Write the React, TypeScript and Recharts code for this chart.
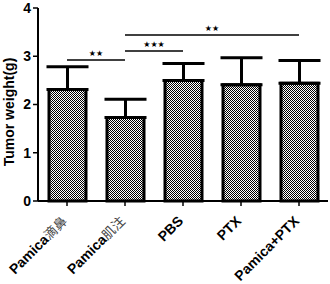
import React from 'react';
import { BarChart, Bar, XAxis, YAxis, ErrorBar, ReferenceLine } from 'recharts';

const categories = ['Pamica滴鼻', 'Pamica肌注', 'PBS', 'PTX', 'Pamica+PTX'];
const means = [2.31, 1.73, 2.5, 2.41, 2.44];
const errors = [0.47, 0.38, 0.35, 0.56, 0.47];
const yTicks = [0, 1, 2, 3, 4];
const sigLines = [
  { from: 'Pamica滴鼻', to: 'Pamica肌注', y: 2.92, label: '★★' },
  { from: 'Pamica肌注', to: 'PBS', y: 3.11, label: '★★★' },
  { from: 'Pamica肌注', to: 'Pamica+PTX', y: 3.44, label: '★★' },
];

const data = categories.map((c, i) => ({ name: c, value: means[i], err: [0, errors[i]] }));

const FONT = '"Liberation Sans", Arial, sans-serif';

const XTick = (props: any) => {
  const { x, y, payload } = props;
  const v: string = payload.value;
  const m = v.match(/^([A-Za-z+]+)(.*)$/);
  const latin = m ? m[1] : v;
  const cjk = m ? m[2] : '';
  const ex = x + 1;
  const ey = y + 14;
  return (
    <text
      x={ex}
      y={ey}
      textAnchor="end"
      transform={`rotate(-45, ${ex}, ${ey})`}
      fontFamily={FONT}
      fontWeight="bold"
      fontSize={14}
      fill="#000"
    >
      {latin}
      {cjk ? (
        <tspan fontFamily='"Noto Sans CJK SC", sans-serif' fontWeight="normal" fontSize={13} fill="#444">
          {cjk}
        </tspan>
      ) : null}
    </text>
  );
};

const StarLabel = (text: string) => (props: any) => {
  const vb = props.viewBox || {};
  let cx: number, cy: number;
  if (vb.x1 !== undefined) {
    cx = (vb.x1 + vb.x2) / 2;
    cy = Math.min(vb.y1, vb.y2);
  } else {
    cx = vb.x + (vb.width || 0) / 2;
    cy = vb.y;
  }
  return (
    <text x={cx} y={cy - 4} textAnchor="middle" fontSize={8} fill="#000" fontFamily='"DejaVu Sans", sans-serif'>
      {text}
    </text>
  );
};

export default function App() {
  return (
    <div style={{ position: 'absolute', left: 0, top: 0, width: 330, height: 284, background: '#fff' }}>
      <BarChart
        width={330}
        height={284}
        data={data}
        margin={{ top: 8, right: 2, left: 0, bottom: 0 }}
        barSize={37}
      >
        <defs>
          <pattern id="checker" width="2" height="2" patternUnits="userSpaceOnUse">
            <rect x="0" y="0" width="2" height="2" fill="#fff" />
            <rect x="0" y="0" width="1" height="1" fill="#000" />
            <rect x="1" y="1" width="1" height="1" fill="#000" />
          </pattern>
        </defs>
        <XAxis
          dataKey="name"
          height={83}
          interval={0}
          tick={<XTick />}
          axisLine={{ stroke: '#000', strokeWidth: 2 }}
          tickLine={{ stroke: '#000', strokeWidth: 1.5 }}
          tickSize={5}
        />
        <YAxis
          width={38}
          domain={[0, 4]}
          ticks={yTicks}
          interval={0}
          axisLine={{ stroke: '#000', strokeWidth: 2 }}
          tickLine={{ stroke: '#000', strokeWidth: 1.5 }}
          tickSize={5}
          tick={{ fill: '#000', fontSize: 14, fontWeight: 'bold', fontFamily: FONT }}
          label={() => {
            const cx = 14;
            const cy = 112;
            return (
              <text
                x={cx}
                y={cy}
                textAnchor="middle"
                transform={`rotate(-90, ${cx}, ${cy})`}
                fontFamily={FONT}
                fontWeight="bold"
                fontSize={14}
                fill="#000"
              >
                Tumor weight(g)
              </text>
            );
          }}
        />
        <Bar dataKey="value" fill="url(#checker)" stroke="#000" strokeWidth={3} isAnimationActive={false}>
          <ErrorBar dataKey="err" direction="y" width={21} stroke="#000" strokeWidth={3} />
        </Bar>
        {sigLines.map((s, i) => (
          <ReferenceLine
            key={i}
            segment={[
              { x: s.from, y: s.y },
              { x: s.to, y: s.y },
            ]}
            stroke="#000"
            strokeWidth={1.5}
            ifOverflow="visible"
            label={StarLabel(s.label)}
          />
        ))}
      </BarChart>
    </div>
  );
}
